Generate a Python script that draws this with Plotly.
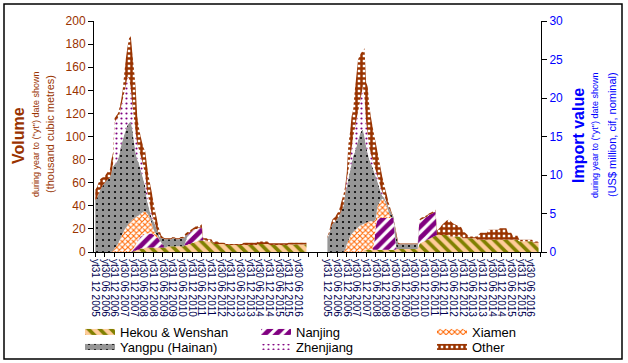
import plotly.graph_objects as go

# ---------------- DATA ----------------
tick_labels = ["yt31 12 2005", "yt30 06 2006", "yt31 12 2006", "yt30 06 2007", "yt31 12 2007",
               "yt30 06 2008", "yt31 12 2008", "yt30 06 2009", "yt31 12 2009", "yt30 06 2010",
               "yt31 12 2010", "yt30 06 2011", "yt31 12 2011", "yt30 06 2012", "yt31 12 2012",
               "yt30 06 2013", "yt31 12 2013", "yt30 06 2014", "yt31 12 2014", "yt30 06 2015",
               "yt31 12 2015", "yt30 06 2016"]

series_names = ["Hekou & Wenshan", "Nanjing", "Xiamen", "Yangpu (Hainan)", "Zhenjiang", "Other"]

# Volume, thousand cubic metres (monthly, yt Dec 2005 .. yt Nov 2016)
vol_hekou = [0, 0, 0, 0, 0, 0, 0, 0, 0, 0, 0, 0,
             0, 0, 0, 0, 0, 0, 0, 0, 0, 0, 0, 0,
             1, 1, 2, 2, 3, 3, 3, 4, 4, 4, 4, 4,
             4, 4, 4, 4, 4, 4, 4, 4, 4, 5, 5, 5,
             5, 5, 5, 5, 5, 5, 5, 5, 6, 6, 7, 7,
             8, 8, 9, 9, 10, 10, 10, 10, 10, 10, 9, 9,
             9, 8, 7, 7, 7, 7, 7, 7, 7, 6, 6, 6,
             6, 6, 6, 6, 6, 6, 6, 6, 6, 6, 6, 6,
             6, 6, 6, 6, 6, 7, 7, 7, 7, 7, 7, 7,
             6, 6, 6, 6, 6, 6, 6, 6, 6, 6, 6, 6,
             6.5, 6.5, 6.5, 6.5, 6.5, 6.5, 6.5, 6.5, 6.5, 6.5, 6.5, 6.5]
vol_nanjing = [0, 0, 0, 0, 0, 0, 0, 0, 0, 0, 0, 0,
               0, 0, 0, 0, 0, 0, 0, 0, 0, 0, 0, 1,
               3, 5, 7, 9, 10, 11, 12, 12, 12, 12, 12, 12,
               11, 10, 9, 8, 6, 4, 2, 0, 0, 0, 0, 0,
               0, 0, 0, 0, 0, 0, 0, 0, 3, 7, 9, 10,
               10, 11, 11, 11, 11, 11, 11, 0, 0, 0, 0, 0,
               0, 0, 0, 0, 0, 0, 0, 0, 0, 0, 0, 0,
               0, 0, 0, 0, 0, 0, 0, 0, 0, 0, 0, 0,
               0, 0, 0, 0, 0, 0, 0, 0, 0, 0, 0, 0,
               0, 0, 0, 0, 0, 0, 0, 0, 0, 0, 0, 0,
               0, 0, 0, 0, 0, 0, 0, 0, 0, 0, 0, 0]
vol_xiamen = [0, 0, 0, 0, 0, 0, 0, 0, 0, 0, 0, 1,
              3, 5, 7, 10, 13, 16, 19, 21, 23, 25, 26, 27,
              25, 24, 22, 21, 20, 20, 20, 19, 18, 16, 13, 9,
              5, 3, 2, 1, 0, 0, 0, 0, 0, 0, 0, 0,
              0, 0, 0, 0, 0, 0, 0, 0, 0, 0, 0, 0,
              0, 0, 0, 0, 0, 0, 0, 0, 0, 0, 0, 0,
              0, 0, 0, 0, 0, 0, 0, 0, 0, 0, 0, 0,
              0, 0, 0, 0, 0, 0, 0, 0, 0, 0, 0, 0,
              0, 0, 0, 0, 0, 0, 0, 0, 0, 0, 0, 0,
              0, 0, 0, 0, 0, 0, 0, 0, 0, 0, 0, 0,
              0, 0, 0, 0, 0, 0, 0, 0, 0, 0, 0, 0]
vol_yangpu = [45, 46, 50, 54, 56, 58, 60, 62, 63, 64, 68, 73,
              73, 72, 73, 75, 79, 81, 83, 85, 87, 87, 87, 78,
              67, 56, 49, 45, 39, 33, 27, 22, 11, 8, 5, 4,
              7, 7, 5, 3, 3, 4, 6, 7, 7, 6, 6, 6,
              7, 7, 6, 6, 6, 7, 7, 7, 5, 2, 0, 0,
              0, 0, 0, 0, 0, 0, 0, 0, 0, 0, 0, 0,
              0, 0, 0, 0, 0, 0, 0, 0, 0, 0, 0, 0,
              0, 0, 0, 0, 0, 0, 0, 0, 0, 0, 0, 0,
              0, 0, 0, 0, 0, 0, 0, 0, 0, 0, 0, 0,
              0, 0, 0, 0, 0, 0, 0, 0, 0, 0, 0, 0,
              0, 0, 0, 0, 0, 0, 0, 0, 0, 0, 0, 0]
vol_zhenjiang = [0, 0, 0, 0, 0, 0, 0, 0, 0, 0, 0, 2,
                 36, 38, 36, 34, 34, 35, 36, 39, 42, 38, 29, 22,
                 20, 18, 14, 12, 12, 12, 11, 10, 9, 7, 6, 4,
                 2, 1, 0, 0, 0, 0, 0, 0, 0, 0, 0, 0,
                 0, 0, 0, 0, 0, 0, 0, 0, 0, 0, 0, 0,
                 0, 0, 0, 0, 0, 0, 0, 0, 0, 0, 0, 0,
                 0, 0, 0, 0, 0, 0, 0, 0, 0, 0, 0, 0,
                 0, 0, 0, 0, 0, 0, 0, 0, 0, 0, 0, 0,
                 0, 0, 0, 0, 0, 0, 0, 0, 0, 0, 0, 0,
                 0, 0, 0, 0, 0, 0, 0, 0, 0, 0, 0, 0,
                 0, 0, 0, 0, 0, 0, 0, 0, 0, 0, 0, 0]
vol_other = [9, 10, 10, 9, 8, 7, 6, 6, 7, 7, 12, 10,
             4, 3, 4, 6, 5, 8, 17, 23, 26, 35, 45, 44,
             42, 39, 24, 19, 17, 16, 17, 20, 22, 19, 19, 19,
             15, 11, 10, 7, 5, 2, 1, 1, 1, 1, 1, 1,
             1, 1, 1, 1, 1, 1, 1, 2, 2, 2, 2, 2,
             2, 2, 2, 2, 2, 2, 3, 2, 2, 2, 2, 2,
             2, 1, 2, 2, 2, 1, 1, 1, 1, 1, 1, 1,
             1, 1, 1, 1, 1, 1, 1, 1, 2, 2, 2, 2,
             2, 2, 2, 2, 2, 2, 2, 2, 2, 2, 2, 2,
             1.5, 1.5, 1.5, 1.5, 1.5, 1.5, 1.5, 1.5, 1.5, 1.5, 1.5, 1.5,
             1.5, 1.5, 1.5, 1.5, 1.5, 1.5, 1.5, 1.5, 1.5, 1.5, 1.5, 1.5]

# Import value, US$ million, cif, nominal
val_hekou = [0, 0, 0, 0, 0, 0, 0, 0, 0, 0, 0, 0,
             0, 0, 0, 0, 0, 0, 0, 0, 0, 0, 0, 0.3,
             0.3, 0.3, 0.3, 0.3, 0.3, 0.3, 0.3, 0.3, 0.3, 0.3, 0.3, 0.3,
             0.3, 0.3, 0.3, 0.3, 0.3, 0.3, 0.3, 0.4, 0.4, 0.4, 0.4, 0.4,
             0.4, 0.4, 0.4, 0.4, 0.4, 0.4, 0.4, 0.4, 0.4, 1.0, 1.2, 1.3,
             1.4, 1.5, 1.6, 1.7, 1.8, 1.9, 2.0, 2.1, 2.2, 2.2, 2.2, 2.2,
             2.2, 2.2, 2.2, 2.2, 2.0, 2.0, 2.0, 2.0, 2.0, 2.0, 2.0, 2.0,
             1.8, 1.8, 1.8, 1.8, 1.8, 1.8, 1.8, 1.8, 1.8, 1.6, 1.6, 1.6,
             1.6, 1.6, 1.6, 1.6, 1.6, 1.6, 1.6, 1.6, 1.6, 1.6, 1.6, 1.6,
             1.6, 1.6, 1.6, 1.6, 1.6, 1.6, 1.6, 1.6, 1.6, 1.6, 1.6, 1.4,
             1.4, 1.4, 1.4, 1.4, 1.4, 1.4, 1.4, 1.4, 1.2, 1.2, 1.2, 1.2]
val_nanjing = [0, 0, 0, 0, 0, 0, 0, 0, 0, 0, 0, 0,
               0, 0, 0, 0, 0, 0, 0, 0, 0, 0, 0, 0,
               0, 0, 0, 0, 0, 1.0, 3.0, 4.1, 4.1, 4.1, 4.1, 4.1,
               4.1, 4.1, 4.1, 4.1, 4.1, 4.1, 1.5, 0, 0, 0, 0, 0,
               0, 0, 0, 0, 0, 0, 0, 0, 0, 3.0, 3.0, 3.0,
               3.0, 3.0, 3.0, 3.1, 3.1, 3.1, 3.1, 3.2, 0, 0, 0, 0,
               0, 0, 0, 0, 0, 0, 0, 0, 0, 0, 0, 0,
               0, 0, 0, 0, 0, 0, 0, 0, 0, 0, 0, 0,
               0, 0, 0, 0, 0, 0, 0, 0, 0, 0, 0, 0,
               0, 0, 0, 0, 0, 0, 0, 0, 0, 0, 0, 0,
               0, 0, 0, 0, 0, 0, 0, 0, 0, 0, 0, 0]
val_xiamen = [0, 0, 0, 0, 0, 0, 0, 0, 0, 0, 0, 0.3,
              1.0, 1.5, 2.0, 2.3, 2.6, 2.8, 3.0, 3.2, 3.4, 3.5, 3.6, 3.4,
              3.5, 3.6, 3.7, 3.7, 3.7, 2.7, 1.0, 1.5, 2.0, 2.3, 2.5, 2.4,
              2.0, 1.5, 0.8, 0.3, 0, 0, 0, 0, 0, 0, 0, 0,
              0, 0, 0, 0, 0, 0, 0, 0, 0, 0, 0, 0,
              0, 0, 0, 0, 0, 0, 0, 0, 0, 0, 0, 0,
              0, 0, 0, 0, 0, 0, 0, 0, 0, 0, 0, 0,
              0, 0, 0, 0, 0, 0, 0, 0, 0, 0, 0, 0,
              0, 0, 0, 0, 0, 0, 0, 0, 0, 0, 0, 0,
              0, 0, 0, 0, 0, 0, 0, 0, 0, 0, 0, 0,
              0, 0, 0, 0, 0, 0, 0, 0, 0, 0, 0, 0]
val_yangpu = [1.8, 2.3, 3.0, 3.6, 3.8, 4.0, 4.3, 4.6, 5.0, 5.5, 6.0, 7.2,
              7.5, 8.0, 8.5, 9.2, 9.9, 10.2, 10.7, 11.3, 11.8, 12.2, 12.3, 11.3,
              9.9, 8.9, 8.0, 7.5, 7.0, 6.4, 5.5, 3.3, 2.1, 1.1, 0.4, 0.3,
              0.3, 0.4, 0.6, 0.6, 0.5, 0.2, 1.2, 1.4, 0.6, 0.6, 0.6, 0.6,
              0.6, 0.6, 0.6, 0.6, 0.6, 0.6, 0.6, 0.6, 0.6, 0, 0, 0,
              0, 0, 0, 0, 0, 0, 0, 0, 0, 0, 0, 0,
              0, 0, 0, 0, 0, 0, 0, 0, 0, 0, 0, 0,
              0, 0, 0, 0, 0, 0, 0, 0, 0, 0, 0, 0,
              0, 0, 0, 0, 0, 0, 0, 0, 0, 0, 0, 0,
              0, 0, 0, 0, 0, 0, 0, 0, 0, 0, 0, 0,
              0, 0, 0, 0, 0, 0, 0, 0, 0, 0, 0, 0]
val_zhenjiang = [0, 0, 0, 0, 0, 0, 0, 0, 0, 0, 0, 0,
                 1.0, 1.0, 1.5, 2.0, 2.5, 3.0, 3.5, 3.7, 4.1, 4.7, 5.6, 5.0,
                 3.3, 2.5, 1.5, 1.2, 1.0, 0.8, 0.8, 0.7, 0.7, 0.6, 0.5, 0.3,
                 0.2, 0, 0, 0, 0, 0, 0, 0, 0, 0, 0, 0,
                 0, 0, 0, 0, 0, 0, 0, 0, 0, 0, 0, 0,
                 0, 0, 0, 0, 0, 0, 0, 0, 0, 0, 0, 0,
                 0, 0, 0, 0, 0, 0, 0, 0, 0, 0, 0, 0,
                 0, 0, 0, 0, 0, 0, 0, 0, 0, 0, 0, 0,
                 0, 0, 0, 0, 0, 0, 0, 0, 0, 0, 0, 0,
                 0, 0, 0, 0, 0, 0, 0, 0, 0, 0, 0, 0,
                 0, 0, 0, 0, 0, 0, 0, 0, 0, 0, 0, 0]
val_other = [0.2, 0.3, 0.5, 0.6, 0.6, 0.6, 0.7, 0.7, 1.0, 1.3, 1.5, 1.0,
             0.8, 3.5, 3.5, 4.1, 3.5, 5.0, 5.8, 6.8, 6.2, 5.5, 4.5, 6.5,
             5.0, 6.2, 5.5, 4.8, 4.3, 4.0, 3.6, 3.2, 2.8, 2.5, 2.0, 1.6,
             1.2, 1.0, 0.6, 0.4, 0.1, 0.1, 0.3, 0.4, 0.2, 0.1, 0.1, 0.1,
             0.1, 0.1, 0.1, 0.1, 0.1, 0.1, 0.1, 0.1, 0.1, 0.2, 0.2, 0.2,
             0.2, 0.2, 0.2, 0.2, 0.2, 0.2, 0.3, 0.2, 0.6, 0.8, 1.0, 1.3,
             1.5, 1.7, 1.9, 2.0, 2.1, 1.9, 1.7, 1.6, 1.5, 1.4, 1.3, 1.2,
             1.0, 0.8, 0.6, 0.4, 0.2, 0.2, 0.2, 0.2, 0.2, 0.4, 0.7, 0.9,
             0.9, 0.9, 0.9, 0.9, 1.3, 1.3, 1.3, 1.3, 1.3, 1.3, 1.3, 1.5,
             1.5, 1.5, 1.5, 1.5, 0.9, 0.9, 0.9, 0.5, 0.5, 0.5, 0.5, 0.2,
             0.2, 0.2, 0.2, 0.2, 0.2, 0.2, 0.2, 0.2, 0.15, 0.15, 0.15, 0.15]

volume_series = [vol_hekou, vol_nanjing, vol_xiamen, vol_yangpu, vol_zhenjiang, vol_other]
value_series = [val_hekou, val_nanjing, val_xiamen, val_yangpu, val_zhenjiang, val_other]

# ---------------- STYLE ----------------
FONT = "Arial, Liberation Sans, sans-serif"
BROWN = "#993300"
BLUE = "#0000FF"

patterns = [
    dict(shape="\\", fgcolor="#808000", bgcolor="#FFCC99", size=8, solidity=0.45, fgopacity=1),
    dict(shape="/", fgcolor="#800080", bgcolor="#FFFFFF", size=8, solidity=0.6, fgopacity=1),
    dict(shape="x", fgcolor="#FF6600", bgcolor="#FFFFFF", size=4, solidity=0.45, fgopacity=1),
    dict(shape=".", fgcolor="#000000", bgcolor="#969696", size=6, solidity=0.1, fgopacity=1),
    dict(shape=".", fgcolor="#800080", bgcolor="#FFFFFF", size=5, solidity=0.15, fgopacity=1),
    dict(shape="+", fgcolor="#993300", bgcolor="#FFFFFF", size=5, solidity=0.75, fgopacity=1),
]
legend_ids = ["legend", "legend2", "legend3", "legend4", "legend5", "legend6"]
# legend cells: (text-left pixel x, row-centre pixel y)
legend_cells = [(122, 332), (298, 332), (474, 332), (122, 347), (298, 347), (474, 347)]

n_months = len(vol_hekou)
right_offset = 144
x_left = list(range(n_months))
x_right = [right_offset + i for i in range(n_months)]

fig = go.Figure()
for k, name in enumerate(series_names):
    pat = patterns[k]
    fig.add_trace(go.Scatter(
        x=x_left, y=volume_series[k], name=name, mode="none",
        stackgroup="vol", fillcolor=pat["bgcolor"], fillpattern=pat,
        legend=legend_ids[k], legendgroup=name, showlegend=True, yaxis="y",
        hoverinfo="skip"))
    fig.add_trace(go.Scatter(
        x=x_right, y=value_series[k], name=name, mode="none",
        stackgroup="val", fillcolor=pat["bgcolor"], fillpattern=pat,
        legend=legend_ids[k], legendgroup=name, showlegend=False, yaxis="y2",
        hoverinfo="skip"))

# x ticks every 6 months, across both panels and the gap
tickvals, ticktext = [], []
for j, lab in enumerate(tick_labels):
    tickvals.append(j * 6); ticktext.append(lab)
for v in range(len(tick_labels) * 6, right_offset, 6):
    tickvals.append(v); ticktext.append("")
for j, lab in enumerate(tick_labels):
    tickvals.append(right_offset + j * 6); ticktext.append(lab)
tickvals.append(right_offset + len(tick_labels) * 6); ticktext.append("")

L, R, T, B = 94, 541, 21, 252
W, H = 628, 363
pw, ph = R - L, B - T

def px_x(p):
    return (p - L) / pw

def px_y(p):
    return (B - p) / ph

fig.update_layout(
    width=W, height=H,
    margin=dict(l=L, r=W - R, t=T, b=H - B, pad=0, autoexpand=False),
    paper_bgcolor="white", plot_bgcolor="white",
    font=dict(family=FONT, size=12, color="black"),
    xaxis=dict(range=[-0.8, 276.5], tickmode="array", tickvals=tickvals, ticktext=ticktext,
               tickangle=90, tickfont=dict(size=10, color="#000050", family=FONT),
               ticks="outside", ticklen=4, tickcolor="black", showline=True,
               linecolor="black", linewidth=1, showgrid=False, zeroline=False,
               automargin=False),
    yaxis=dict(range=[0, 200], dtick=20, ticks="outside", ticklen=5, tickcolor="black",
               showline=True, linecolor="black", linewidth=1, showgrid=False, zeroline=False,
               tickfont=dict(size=12, color=BROWN, family=FONT), automargin=False),
    yaxis2=dict(range=[0, 30], dtick=5, overlaying="y", side="right", ticks="outside",
                ticklen=5, tickcolor="black", showline=True, linecolor="black", linewidth=1,
                showgrid=False, zeroline=False, tickfont=dict(size=12, color=BLUE, family=FONT),
                automargin=False),
    showlegend=True,
)

leg_common = dict(orientation="v", yanchor="middle", xanchor="left", traceorder="normal",
                  font=dict(size=13, family=FONT, color="black"), bgcolor="rgba(0,0,0,0)",
                  itemwidth=30, tracegroupgap=0, itemclick=False, itemdoubleclick=False)
for lid, (tx, ty) in zip(legend_ids, legend_cells):
    fig.update_layout({lid: dict(x=px_x(tx - 42), y=px_y(ty), **leg_common)})

# axis titles
anns = [
    dict(text="<b>Volume</b>", x=px_x(18), y=px_y(136), font=dict(size=16, color=BROWN)),
    dict(text="during year to (\"yt\") date shown", x=px_x(36), y=px_y(135), font=dict(size=9, color=BROWN)),
    dict(text="(thousand cubic metres)", x=px_x(50), y=px_y(134), font=dict(size=11, color=BROWN)),
    dict(text="<b>Import value</b>", x=px_x(578), y=px_y(136), font=dict(size=16, color=BLUE)),
    dict(text="during year to (\"yt\") date shown", x=px_x(595), y=px_y(136), font=dict(size=9, color=BLUE)),
    dict(text="(US$ million, cif, nominal)", x=px_x(612), y=px_y(135), font=dict(size=11, color=BLUE)),
]
for a in anns:
    fig.add_annotation(xref="paper", yref="paper", showarrow=False, textangle=-90,
                       xanchor="center", yanchor="middle", **a)

# outer chart border
fig.add_shape(type="rect", xref="paper", yref="paper",
              x0=px_x(4), x1=px_x(622), y0=px_y(359), y1=px_y(4),
              line=dict(color="black", width=1.5), fillcolor="rgba(0,0,0,0)", layer="below")

fig.write_html("out.html", config={"displayModeBar": False},
               post_script="document.body.style.margin='0';document.body.style.padding='0';"
                           "document.body.style.overflow='hidden';")
